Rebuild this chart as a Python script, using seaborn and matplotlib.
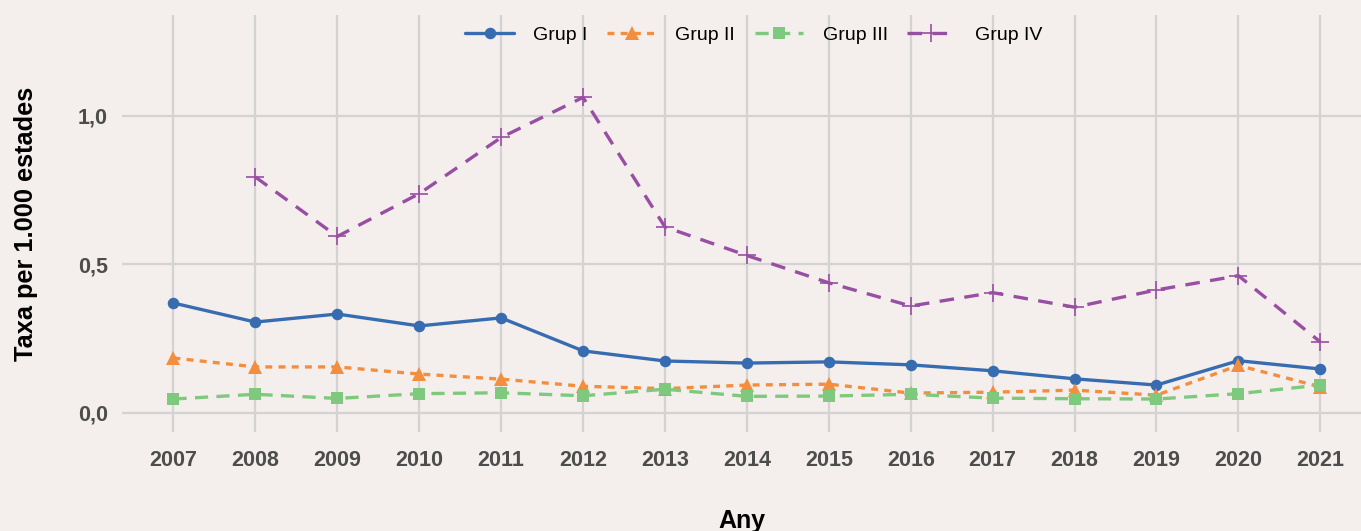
import numpy as np
import pandas as pd
import matplotlib
matplotlib.use("Agg")
import matplotlib.pyplot as plt
import seaborn as sns

# ---- data ----
years = list(range(2007, 2022))
grup_i = [0.370, 0.306, 0.333, 0.293, 0.320, 0.209, 0.175, 0.168, 0.172, 0.162, 0.142, 0.115, 0.094, 0.176, 0.148]
grup_ii = [0.185, 0.155, 0.155, 0.131, 0.114, 0.090, 0.082, 0.094, 0.097, 0.067, 0.070, 0.077, 0.060, 0.160, 0.088]
grup_iii = [0.047, 0.063, 0.049, 0.065, 0.068, 0.058, 0.080, 0.056, 0.057, 0.063, 0.050, 0.048, 0.047, 0.065, 0.094]
grup_iv = [np.nan, 0.794, 0.594, 0.738, 0.927, 1.062, 0.626, 0.530, 0.438, 0.360, 0.405, 0.356, 0.414, 0.462, 0.239]
series_names = ["Grup I", "Grup II", "Grup III", "Grup IV"]
x_tick_labels = [str(y) for y in years]
y_ticks = [0.0, 0.5, 1.0]
y_tick_labels = ["0,0", "0,5", "1,0"]
x_title = "Any"
y_title = "Taxa per 1.000 estades"

# ---- styling ----
bg = "#f4efec"
grid_col = "#d3d3d3"
sns.set_theme(style="whitegrid")
plt.rcParams["font.family"] = ["Liberation Sans", "DejaVu Sans"]
plt.rcParams["lines.scale_dashes"] = False

fig = plt.figure(figsize=(13.61, 5.31), dpi=100, facecolor=bg)
ax = fig.add_axes([122 / 1361, 99 / 531, 1 - 122 / 1361, (432 - 15) / 531])
ax.set_facecolor(bg)

styles = [
    dict(color="#386cb0", marker="o", linestyle="-", markersize=8.3, mew=0),
    dict(color="#f28e3d", marker="^", linestyle=(0, (5, 4.5)), markersize=10, mew=0),
    dict(color="#7fc97f", marker="s", linestyle=(0, (9.5, 6)), markersize=8.8, mew=0),
    dict(color="#984ea3", marker="+", linestyle=(0, (10.5, 7.5)), markersize=13, mew=1.2),
]
all_vals = [grup_i, grup_ii, grup_iii, grup_iv]
for name, vals, st in zip(series_names, all_vals, styles):
    df = pd.DataFrame({"year": years, "value": vals})
    sns.lineplot(data=df, x="year", y="value", ax=ax, label=name,
                 color=st["color"], marker=st["marker"], linestyle=st["linestyle"],
                 markersize=st["markersize"], markeredgewidth=st["mew"],
                 markeredgecolor=st["color"], markerfacecolor=st["color"],
                 linewidth=2.4)

ax.set_xlim(2007 - 51.5 / 82, 2021 + 40.7 / 82)
ax.set_ylim((413 - 432) / 297.2, (413 - 15) / 297.2)
ax.set_xticks(years)
ax.set_xticklabels(x_tick_labels)
ax.set_yticks(y_ticks)
ax.set_yticklabels(y_tick_labels)

ax.grid(True, color=grid_col, linewidth=1.6)
ax.set_axisbelow(True)
for s in ax.spines.values():
    s.set_visible(False)
ax.tick_params(axis="both", length=0, labelsize=15.5, labelcolor="#4d4d4d")
for lab in ax.get_xticklabels() + ax.get_yticklabels():
    lab.set_fontweight("bold")
ax.tick_params(axis="x", pad=13)
ax.tick_params(axis="y", pad=10)

ax.set_xlabel(x_title, fontsize=18, fontweight="bold", color="black", labelpad=27)
ax.set_ylabel(y_title, fontsize=18.3, fontweight="bold", color="black", labelpad=29)

leg = ax.legend(loc="center", bbox_to_anchor=(754 / 1361, 1 - 35 / 531),
                bbox_transform=fig.transFigure, ncol=4, frameon=False,
                fontsize=14, handlelength=2.5, handletextpad=1.0,
                columnspacing=1.0, borderpad=0, labelcolor="black")

fig.savefig("out.png", dpi=100, facecolor=bg)
